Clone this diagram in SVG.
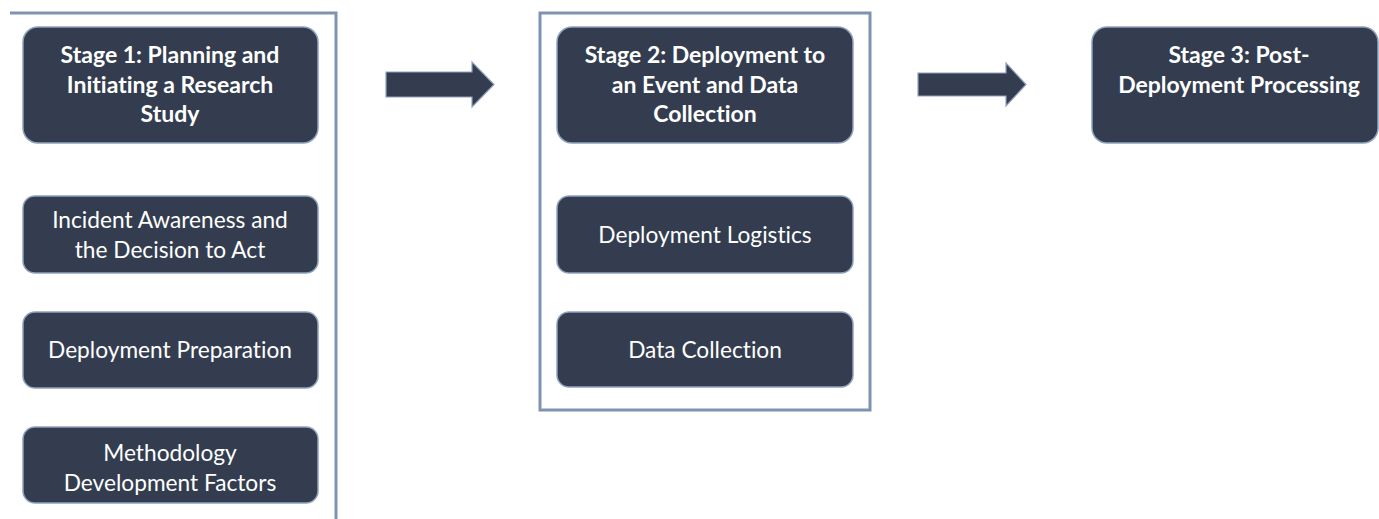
<svg xmlns="http://www.w3.org/2000/svg" width="1379" height="519" viewBox="0 0 1379 519">
  <style>
    .frame { fill: none; stroke: #7f93b0; stroke-width: 3; }
    .box { fill: #333d4f; stroke: #8fa2bd; stroke-width: 1.5; }
    .arrow { fill: #333d4f; stroke: #8fa2bd; stroke-width: 1.2; }
    .title { font-family: Lato, "Liberation Sans", sans-serif; font-weight: bold; font-size: 23px; fill: #ffffff; text-anchor: middle; font-variant-ligatures: none; }
    .label { font-family: Lato, "Liberation Sans", sans-serif; font-size: 22.7px; fill: #ffffff; text-anchor: middle; font-variant-ligatures: none; }
  </style>

  <!-- stage frames -->
  <g id="frames">
    <polyline class="frame" points="10,13 336,13 336,519"/>
    <rect class="frame" x="540" y="13" width="330" height="397"/>
  </g>

  <!-- connectors between stages -->
  <g id="connectors">
    <polygon class="arrow" points="386,72 472,72 472,62 494,84.5 472,107 472,97 386,97"/>
    <polygon class="arrow" points="918,73 1006,73 1006,63 1026,84.5 1006,106 1006,96 918,96"/>
  </g>

  <g id="stage1">
    <rect class="box" x="23" y="27" width="295" height="116" rx="15"/>
    <text class="title" x="170" y="63">Stage 1: Planning and</text>
    <text class="title" x="170" y="93">Initiating a Research</text>
    <text class="title" x="170" y="122">Study</text>
  </g>

  <g id="incident-awareness">
    <rect class="box" x="23" y="196" width="295" height="77" rx="12"/>
    <text class="label" x="170" y="228">Incident Awareness and</text>
    <text class="label" x="170" y="258">the Decision to Act</text>
  </g>

  <g id="deployment-preparation">
    <rect class="box" x="23" y="312" width="295" height="76" rx="12"/>
    <text class="label" x="170" y="358">Deployment Preparation</text>
  </g>

  <g id="methodology">
    <rect class="box" x="23" y="427" width="295" height="76" rx="12"/>
    <text class="label" x="170" y="461">Methodology</text>
    <text class="label" x="170" y="491">Development Factors</text>
  </g>

  <g id="stage2">
    <rect class="box" x="557" y="27" width="296" height="116" rx="15"/>
    <text class="title" x="705" y="63">Stage 2: Deployment to</text>
    <text class="title" x="705" y="93">an Event and Data</text>
    <text class="title" x="705" y="122">Collection</text>
  </g>

  <g id="deployment-logistics">
    <rect class="box" x="557" y="196" width="296" height="77" rx="12"/>
    <text class="label" x="705" y="243">Deployment Logistics</text>
  </g>

  <g id="data-collection">
    <rect class="box" x="557" y="312" width="296" height="75" rx="12"/>
    <text class="label" x="705" y="358">Data Collection</text>
  </g>

  <g id="stage3">
    <rect class="box" x="1092" y="27" width="286" height="116" rx="15"/>
    <text class="title" x="1239" y="63">Stage 3: Post-</text>
    <text class="title" x="1239" y="93">Deployment Processing</text>
  </g>
</svg>
